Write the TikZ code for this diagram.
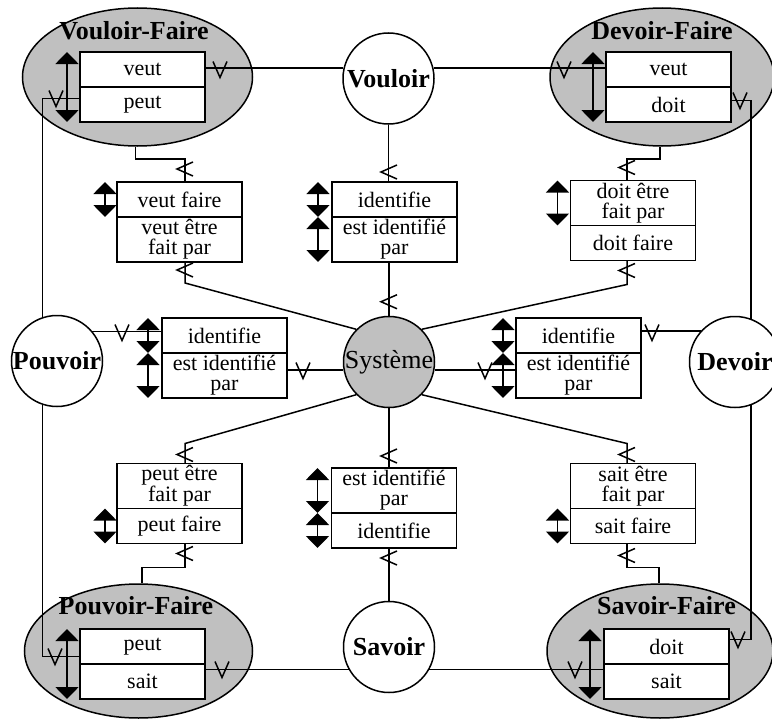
\documentclass[tikz,border=0pt]{standalone}
\usepackage{fontspec}
\setmainfont{Liberation Serif}
\usetikzlibrary{positioning,shapes.geometric,arrows.meta}
\definecolor{shade}{HTML}{C0C0C0}

\begin{document}
\begin{tikzpicture}[x=1pt, y=-1pt, line width=1.5pt,
	cell/.style={draw, fill=white, minimum width=125pt, minimum height=35pt, inner sep=0pt, outer sep=0pt, align=center, font=\fontsize{22}{20}\selectfont},
	cellx/.style={cell, minimum height=45pt},
	field/.style={ellipse, draw, fill=shade, minimum width=230pt, minimum height=138pt, inner sep=0pt},
	title/.style={font=\bfseries\fontsize{26}{26}\selectfont},
	role/.style={circle, draw, fill=white, minimum size=91pt, inner sep=0pt, font=\bfseries\fontsize{26}{26}\selectfont},
	dbl/.style={line width=1.8pt, {Triangle[width=23pt,length=12pt]}-{Triangle[width=23pt,length=12pt]}},
	manyh/.pic={\draw (-7pt,8pt) -- (0pt,-8pt) -- (7pt,8pt);},
	manyv/.pic={\draw (8pt,7pt) -- (-8pt,0pt) -- (8pt,-7pt);}]
	\useasboundingbox (0,0) rectangle (772,720);

	\node[field] (vf) at (137.5,77) {};
	\node[field, minimum width=224pt] (df) at (662,77) {};
	\node[field, minimum width=228pt, minimum height=134pt] (pf) at (138.5,651) {};
	\node[field, minimum width=226pt, minimum height=134pt] (sf) at (660,651) {};
	\node[title] (vft) at (134,31) {Vouloir-Faire};
	\node[title] (dft) at (662,31) {Devoir-Faire};
	\node[title] (pft) at (136,606) {Pouvoir-Faire};
	\node[title] (sft) at (666.5,606) {Savoir-Faire};

	\node[cell] (vfa) at (142.5,69.5) {veut};
	\node[cell, below=0pt of vfa] (vfb) {peut};
	\node[cell] (dfa) at (668.5,69.5) {veut};
	\node[cell, below=0pt of dfa] (dfb) {doit};
	\node[cell] (pfa) at (142.5,646.5) {peut};
	\node[cell, below=0pt of pfa] (pfb) {sait};
	\node[cell] (sfa) at (666.5,646.5) {doit};
	\node[cell, below=0pt of sfa] (sfb) {sait};

	\node[cell] (tla) at (179.5,199.5) {veut faire};
	\node[cellx, below=0pt of tla] (tlb) {veut être\\fait par};
	\node[cell] (tma) at (394.5,199.5) {identifie};
	\node[cellx, below=0pt of tma] (tmb) {est identifié\\par};
	\node[cellx] (tra) at (633,203) {doit être\\fait par};
	\node[cell, below=0pt of tra] (trb) {doit faire};
	\node[cell] (mla) at (224.5,335.5) {identifie};
	\node[cellx, below=0pt of mla] (mlb) {est identifié\\par};
	\node[cell] (mra) at (578.5,335.5) {identifie};
	\node[cellx, below=0pt of mra] (mrb) {est identifié\\par};
	\node[cellx] (bla) at (179.5,486) {peut être\\fait par};
	\node[cell, below=0pt of bla] (blb) {peut faire};
	\node[cellx] (bma) at (394,490.5) {est identifié\\par};
	\node[cell, below=0pt of bma] (bmb) {identifie};
	\node[cellx] (bra) at (633,486) {sait être\\fait par};
	\node[cell, below=0pt of bra] (brb) {sait faire};

	\node[role] (vouloir) at (388.5,78.5) {Vouloir};
	\node[role] (pouvoir) at (57,361) {Pouvoir};
	\node[role] (devoir) at (735,362) {Devoir};
	\node[role] (savoir) at (389,647) {Savoir};
	\node[role, fill=shade, font=\fontsize{26}{26}\selectfont] (systeme) at (389,362) {\makebox[0pt]{Système}};

	\draw[dbl] ([xshift=-13pt]vfa.north west) -- ([xshift=-13pt]vfb.south west);
	\draw[dbl] ([xshift=-13pt]dfa.north west) -- ([xshift=-13pt]dfb.south west);
	\draw[dbl] ([xshift=-13pt]pfa.north west) -- ([xshift=-13pt]pfb.south west);
	\draw[dbl] ([xshift=-14pt]sfa.north west) -- ([xshift=-14pt]sfb.south west);
	\draw[dbl] ([xshift=-12pt]tla.north west) -- ([xshift=-12pt]tla.south west);
	\draw[dbl] ([xshift=-14pt]tma.north west) -- ([xshift=-14pt]tma.south west);
	\draw[dbl] ([xshift=-14pt]tmb.north west) -- ([xshift=-14pt]tmb.south west);
	\draw[dbl] ([xshift=-13pt]tra.north west) -- ([xshift=-13pt]tra.south west);
	\draw[dbl] ([xshift=-14pt]mla.north west) -- ([xshift=-14pt]mla.south west);
	\draw[dbl] ([xshift=-14pt]mlb.north west) -- ([xshift=-14pt]mlb.south west);
	\draw[dbl] ([xshift=-13pt]mra.north west) -- ([xshift=-13pt]mra.south west);
	\draw[dbl] ([xshift=-13pt]mrb.north west) -- ([xshift=-13pt]mrb.south west);
	\draw[dbl] ([xshift=-12pt]blb.north west) -- ([xshift=-12pt]blb.south west);
	\draw[dbl] ([xshift=-14pt]bma.north west) -- ([xshift=-14pt]bma.south west);
	\draw[dbl] ([xshift=-14pt]bmb.north west) -- ([xshift=-14pt]bmb.south west);
	\draw[dbl] ([xshift=-13pt]brb.north west) -- ([xshift=-13pt]brb.south west);

	\draw (vouloir.167) -- (vouloir.167 -| vfa.east);
	\draw (vouloir.13) -- (vouloir.13 -| dfa.west);
	\draw ([yshift=6pt]vfb.west) -| (pouvoir.108);
	\draw (pouvoir.252) |- ([yshift=-10pt]pfa.west);
	\draw ([yshift=4pt]dfb.east) -| (devoir.70);
	\draw (devoir.-70) |- ([yshift=7pt]sfa.east);
	\draw (savoir.209) -- (savoir.209 -| pfb.east);
	\draw (savoir.-29) -- (savoir.-29 -| sfb.west);
	\draw (pouvoir.40) -- (pouvoir.40 -| mla.west);
	\draw (systeme.190) -- (systeme.190 -| mlb.east);
	\draw (systeme.-10) -- (systeme.-10 -| mrb.west);
	\draw (devoir.138) -- (devoir.138 -| mra.east);
	\draw (vouloir.south) -- (vouloir.south |- tma.north);
	\draw (systeme.north |- tmb.south) -- (systeme.north);
	\draw (systeme.south) -- (systeme.south |- bma.north);
	\draw (savoir.north |- bmb.south) -- (savoir.north);
	\draw ([xshift=-2pt]vf.south) -- ++(0,12) -| ([xshift=5.5pt]tla.north);
	\draw ([xshift=5.5pt]tlb.south) -- ++(0,21) -- (systeme.135);
	\draw ([xshift=-2pt]df.south) -- ++(0,12) -| ([xshift=-6pt]tra.north);
	\draw ([xshift=-6pt]trb.south) -- ++(0,24) -- (systeme.45);
	\draw (systeme.225) -- ([xshift=5.5pt,yshift=20pt]bla.north) -- ([xshift=5.5pt]bla.north);
	\draw ([xshift=5.5pt]blb.south) -- ++(0,24) -| ([xshift=3.5pt]pf.north);
	\draw (systeme.-45) -- ([xshift=-6pt,yshift=20pt]bra.north) -- ([xshift=-6pt]bra.north);
	\draw ([xshift=-6pt]brb.south) -- ++(0,24) -| ([xshift=-1pt]sf.north);

	\pic at ([xshift=15pt]vfa.east) {manyh};
	\pic at ([xshift=-42pt]dfa.west) {manyh};
	\pic at ([xshift=-24pt,yshift=6pt]vfb.west) {manyh};
	\pic at ([xshift=-25pt,yshift=-10pt]pfa.west) {manyh};
	\pic at ([xshift=9pt,yshift=4pt]dfb.east) {manyh};
	\pic at ([xshift=9pt,yshift=7pt]sfa.east) {manyh};
	\pic at ([xshift=17pt,yshift=12pt]pfb.east) {manyh};
	\pic at ([xshift=-29pt,yshift=12pt]sfb.west) {manyh};
	\pic at ([xshift=-40pt,yshift=3pt]mla.west) {manyh};
	\pic at ([xshift=16pt,yshift=5pt]mlb.east) {manyh};
	\pic at ([xshift=-31pt,yshift=5pt]mrb.west) {manyh};
	\pic at ([xshift=11pt,yshift=3pt]mra.east) {manyh};
	\pic at ([xshift=-5.5pt,yshift=10pt]tma.north) {manyv};
	\pic at ([yshift=14pt]systeme.north) {manyv};
	\pic at ([xshift=-5pt,yshift=12pt]bma.north) {manyv};
	\pic at ([xshift=-5pt,yshift=-10pt]bmb.south) {manyv};
	\pic at ([xshift=5.5pt,yshift=13pt]tla.north) {manyv};
	\pic at ([xshift=5.5pt,yshift=-8pt]tlb.south) {manyv};
	\pic at ([xshift=-6pt,yshift=13pt]tra.north) {manyv};
	\pic at ([xshift=-6pt,yshift=-10pt]trb.south) {manyv};
	\pic at ([xshift=5.5pt,yshift=9pt]bla.north) {manyv};
	\pic at ([xshift=5.5pt,yshift=-10pt]blb.south) {manyv};
	\pic at ([xshift=-6pt,yshift=9pt]bra.north) {manyv};
	\pic at ([xshift=-6pt,yshift=-12pt]brb.south) {manyv};
\end{tikzpicture}
\end{document}
